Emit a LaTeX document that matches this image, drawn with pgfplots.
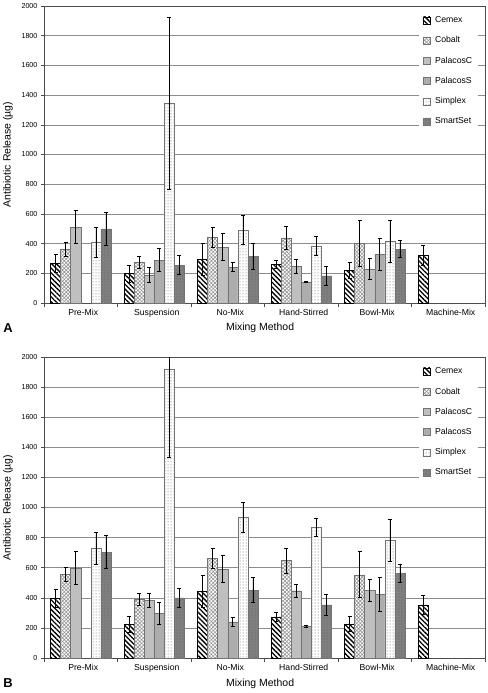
\documentclass[border=0pt]{standalone}
\usepackage{fontspec}
\setmainfont{Liberation Sans}
\usepackage{pgfplots}
\pgfplotsset{compat=1.18}
\usepackage{pgfplotstable}
\usetikzlibrary{patterns,patterns.meta}

\definecolor{gridc}{gray}{0.55}
\definecolor{axc}{gray}{0.30}
\definecolor{pcfill}{gray}{0.75}
\definecolor{psfill}{gray}{0.68}
\definecolor{ssfill}{gray}{0.50}
\definecolor{bord}{gray}{0.45}

% x: 0 Pre-Mix, 1 Suspension, 2 No-Mix, 3 Hand-Stirred, 4 Bowl-Mix, 5 Machine-Mix
\pgfplotstableread{
x cem cemE cob cobE pc pcE ps psE sim simE ss ssE
0 265 60  362 46  511 112 nan nan 409 102 500 110
1 199 57  273 40  190 50  289 77  1345 580 255 65
2 296 108 441 67  377 92  242 32  493 100 314 85
3 260 30  438 80  249 46  142 5   384 63  183 67
4 219 52  402 155 228 72  328 110 414 140 362 57
5 321 66  nan nan nan nan nan nan nan nan nan nan
}\tblA

\pgfplotstableread{
x cem cemE cob cobE pc pcE ps psE sim simE ss ssE
0 398 60  556 46  598 110 nan nan 729 104 704 110
1 224 56  391 40  384 48  296 75  1916 580 400 62
2 442 105 662 67  591 90  240 30  935 100 451 83
3 273 30  647 82  447 45  211 4   869 62  353 67
4 227 50  553 153 451 73  422 111 784 139 562 57
5 353 65  nan nan nan nan nan nan nan nan nan nan
}\tblB

\pgfplotsset{
  cemex/.style={fill=white, draw=black, postaction={pattern={Lines[angle=-45,distance=3.4bp,line width=1.3bp]}, pattern color=black}},
  cobalt/.style={fill=white, draw=bord, postaction={pattern={Hatch[angle=45,distance=2.6bp,line width=0.6bp]}, pattern color=gray!85}},
  pcst/.style={fill=pcfill, draw=bord},
  psst/.style={fill=psfill, draw=bord, postaction={pattern={Dots[distance=2bp,radius=0.35bp]}, pattern color=gray!55!white}},
  simst/.style={fill=white, draw=bord, postaction={pattern={Dots[distance=3bp,radius=0.5bp]}, pattern color=gray!70!black}},
  ssst/.style={fill=ssfill, draw=bord, postaction={pattern={Dots[distance=3bp,radius=0.45bp]}, pattern color=gray!40!black}},
  eb/.style={error bars/.cd, y dir=both, y explicit,
    error bar style={black, line width=0.7bp},
    error mark options={black, rotate=90, mark size=2bp, line width=0.7bp}},
  myaxis/.style={
    scale only axis,
    width=441bp,
    ybar,
    bar width=0.137,
    xmin=-0.5, xmax=5.5, ymin=0, ymax=2000,
    xtick={0,...,5},
    xticklabels={Pre-Mix, Suspension, No-Mix, Hand-Stirred, Bowl-Mix, Machine-Mix},
    minor xtick={-0.5,0.5,...,5.5},
    ytick={0,200,...,2000},
    ymajorgrids,
    grid style={gridc, line width=0.6bp},
    axis line style={axc, line width=0.7bp},
    tick style={axc, line width=0.6bp},
    tick align=outside,
    major tick length=3bp, minor tick length=4bp,
    major x tick style={draw=none},
    tick pos=left,
    x tick label style={font=\fontsize{8.7}{10}\selectfont, xshift=2.5bp},
    y tick label style={font=\fontsize{7.2}{9}\selectfont},
    /pgf/number format/assume math mode=true,
    /pgf/number format/1000 sep={},
    xlabel={Mixing Method},
    ylabel={Antibiotic Release (µg)},
    label style={font=\fontsize{10.5}{12}\selectfont},
    xlabel style={at={(axis description cs:0.49,-0.085)}, anchor=center},
    ylabel style={at={(axis description cs:-0.082,0.5)}, anchor=center},
    legend style={at={(0.985,0.985)}, anchor=north east, draw=none, fill=white,
      font=\fontsize{8.7}{10}\selectfont, row sep=8.5bp, inner sep=4bp,
      /tikz/every odd column/.append style={column sep=3bp}},
    legend cell align=left,
    legend image code/.code={\draw[##1] (0bp,-3.5bp) rectangle (7bp,3.5bp);},
  }
}

\begin{document}
\begin{tikzpicture}
\path[use as bounding box] (0bp,0bp) rectangle (488bp,-693bp);

\begin{axis}[myaxis, at={(44bp,-6bp)}, anchor=north west, height=297bp]
\addplot[cemex, bar shift=-0.3425, eb] table[x=x, y=cem, y error=cemE] {\tblA};
\addplot[cobalt, bar shift=-0.2055, eb] table[x=x, y=cob, y error=cobE] {\tblA};
\addplot[pcst, bar shift=-0.0685, eb] table[x=x, y=pc, y error=pcE] {\tblA};
\addplot[psst, bar shift=0.0685, eb] table[x=x, y=ps, y error=psE] {\tblA};
\addplot[simst, bar shift=0.2055, eb] table[x=x, y=sim, y error=simE] {\tblA};
\addplot[ssst, bar shift=0.3425, eb] table[x=x, y=ss, y error=ssE] {\tblA};
\legend{Cemex, Cobalt, PalacosC, PalacosS, Simplex, SmartSet}
\end{axis}

\begin{axis}[myaxis, at={(44bp,-357bp)}, anchor=north west, height=301bp]
\addplot[cemex, bar shift=-0.3425, eb] table[x=x, y=cem, y error=cemE] {\tblB};
\addplot[cobalt, bar shift=-0.2055, eb] table[x=x, y=cob, y error=cobE] {\tblB};
\addplot[pcst, bar shift=-0.0685, eb] table[x=x, y=pc, y error=pcE] {\tblB};
\addplot[psst, bar shift=0.0685, eb] table[x=x, y=ps, y error=psE] {\tblB};
\addplot[simst, bar shift=0.2055, eb] table[x=x, y=sim, y error=simE] {\tblB};
\addplot[ssst, bar shift=0.3425, eb] table[x=x, y=ss, y error=ssE] {\tblB};
\legend{Cemex, Cobalt, PalacosC, PalacosS, Simplex, SmartSet}
\end{axis}

\node[font=\bfseries\fontsize{13}{14}\selectfont] at (8bp,-328bp) {A};
\node[font=\bfseries\fontsize{13}{14}\selectfont] at (8bp,-683bp) {B};
\end{tikzpicture}
\end{document}
